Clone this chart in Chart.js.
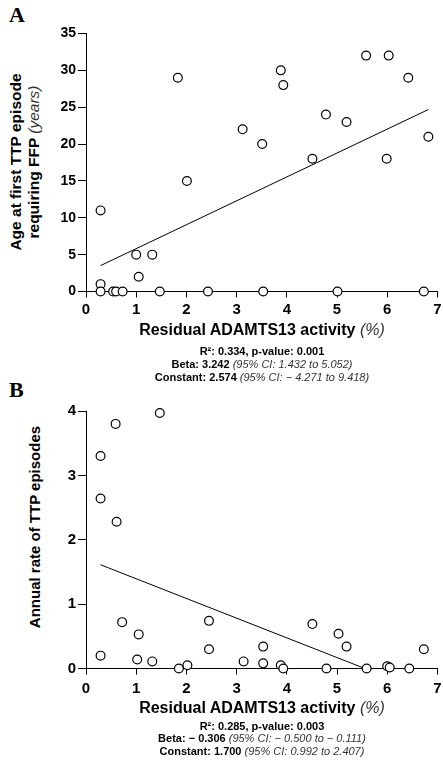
<!DOCTYPE html>
<html>
<head>
<meta charset="utf-8">
<script src="https://cdn.jsdelivr.net/npm/chart.js@4.4.1/dist/chart.umd.min.js"></script>
<style>
body { margin: 0; background: #fff; font-family: 'Liberation Sans', Arial, sans-serif; color: #000; }
#page { position: relative; width: 443px; height: 763px; overflow: hidden; }
.panel { position: absolute; left: 0; }
.letter { position: absolute; left: 9px; font: bold 22px 'Liberation Serif', 'Times New Roman', serif; line-height: 22px; }
.ytitle { position: absolute; width: 240px; text-align: center; font-weight: bold; white-space: nowrap; transform: rotate(-90deg); }
.xtitle { position: absolute; left: 82px; width: 360px; text-align: center; font-weight: bold; font-size: 16px; line-height: 20px; }
.stats { position: absolute; left: 82px; width: 360px; text-align: center; font-weight: bold; font-size: 11px; line-height: 12.6px; }
.stats i, .xtitle i, .ytitle i { font-weight: normal; color: #333; }
</style>
</head>
<body>
<div id="page">
  <div class="letter" style="top:4px">A</div>
  <div class="ytitle" style="left:-95px; top:144px; height:36px; font-size:15.5px; line-height:18px">Age at first TTP episode<br>requiring FFP <i>(years)</i></div>
  <div class="panel" style="top:0px"><canvas id="chartA" width="443" height="322"></canvas></div>
  <div class="xtitle" style="top:320px">Residual ADAMTS13 activity <i>(%)</i></div>
  <div class="stats" id="statsA" style="top:345.4px"></div>

  <div class="letter" style="top:379px">B</div>
  <div class="ytitle" style="left:-85px; top:518px; height:18px; font-size:15px; line-height:18px">Annual rate of TTP episodes</div>
  <div class="panel" style="top:380px"><canvas id="chartB" width="443" height="320"></canvas></div>
  <div class="xtitle" style="top:698px">Residual ADAMTS13 activity <i>(%)</i></div>
  <div class="stats" id="statsB" style="top:719.7px"></div>
</div>
<script>
// Panel A: age at first TTP episode requiring FFP (years)
var ageX = [0.29, 0.29, 0.29, 0.54, 0.60, 0.73, 1.00, 1.05, 1.32, 1.47, 1.83, 2.01, 2.43, 3.12,
            3.51, 3.53, 3.88, 3.93, 4.51, 4.78, 5.01, 5.19, 5.58, 5.99, 6.03, 6.42, 6.73, 6.82];
var ageY = [11, 1, 0, 0, 0, 0, 5, 2, 5, 0, 29, 15, 0, 22,
            20, 0, 30, 28, 18, 24, 0, 23, 32, 18, 32, 29, 0, 21];
var ageFit = { r2: '0.334', p: '0.001', beta: 3.242, betaCI: '1.432 to 5.052', constant: 2.574, constantCI: '\u2212 4.271 to 9.418' };

// Panel B: annual rate of TTP episodes
var rateX = [0.29, 0.29, 0.29, 0.59, 0.61, 0.72, 1.02, 1.05, 1.32, 1.47, 1.85, 2.02, 2.45, 2.45,
             3.14, 3.53, 3.53, 3.88, 3.93, 4.51, 4.79, 5.03, 5.19, 5.59, 6.00, 6.05, 6.44, 6.73];
var rateY = [3.30, 2.64, 0.20, 3.80, 2.28, 0.72, 0.14, 0.53, 0.11, 3.97, 0, 0.05, 0.74, 0.30,
             0.11, 0.34, 0.08, 0.05, 0, 0.69, 0, 0.54, 0.34, 0, 0.035, 0.015, 0, 0.30];
var rateFit = { r2: '0.285', p: '0.003', beta: -0.306, betaCI: '\u2212 0.500 to \u2212 0.111', constant: 1.700, constantCI: '0.992 to 2.407' };

var xTicks = [0, 1, 2, 3, 4, 5, 6, 7];

function fmt(v) {
    return (v < 0 ? '\u2212 ' : '') + Math.abs(v).toFixed(3);
}

function statsHtml(fit) {
    return 'R\u00b2: ' + fit.r2 + ', p-value: ' + fit.p + '<br>' +
        'Beta: ' + fmt(fit.beta) + ' <i>(95% CI: ' + fit.betaCI + ')</i><br>' +
        'Constant: ' + fmt(fit.constant) + ' <i>(95% CI: ' + fit.constantCI + ')</i>';
}

function fitLine(xs, fit) {
    var x0 = Math.min.apply(null, xs);
    var x1 = Math.max.apply(null, xs);
    // a falling fit stops where it reaches zero
    if (fit.beta < 0) x1 = Math.min(x1, -fit.constant / fit.beta);
    return [
        { x: x0, y: fit.constant + fit.beta * x0 },
        { x: x1, y: fit.constant + fit.beta * x1 }
    ];
}

function makeChart(id, xs, ys, fit, yMax, yStep, opts) {
    var points = xs.map(function (x, i) { return { x: x, y: ys[i] }; });
    return new Chart(document.getElementById(id), {
        type: 'scatter',
        data: {
            datasets: [
                {
                    data: points,
                    pointRadius: 4.4,
                    pointBorderWidth: 1.2,
                    pointBorderColor: '#000',
                    pointBackgroundColor: '#fff',
                    clip: false
                },
                {
                    data: fitLine(xs, fit),
                    showLine: true,
                    pointRadius: 0,
                    borderColor: '#000',
                    borderWidth: 1,
                    clip: false
                }
            ]
        },
        options: {
            responsive: false,
            animation: false,
            layout: { padding: { top: opts.padTop, left: 0, right: 4, bottom: 0 } },
            plugins: { legend: { display: false }, tooltip: { enabled: false } },
            scales: {
                x: {
                    type: 'linear',
                    min: 0,
                    max: 7,
                    afterBuildTicks: function (scale) {
                        scale.ticks = xTicks.map(function (v) { return { value: v }; });
                    },
                    afterFit: function (scale) {
                        scale.height = opts.xHeight;
                        // let the "7" run into the page margin
                        scale.paddingRight = 0;
                    },
                    border: { display: true, color: '#000', width: 1 },
                    grid: { drawOnChartArea: false, tickLength: 6, color: '#000' },
                    ticks: {
                        color: '#000',
                        padding: opts.xPad,
                        font: { family: 'Liberation Sans', size: 15, weight: 'bold' }
                    }
                },
                y: {
                    min: 0,
                    max: yMax,
                    afterFit: function (scale) { scale.width = 86; },
                    border: { display: true, color: '#000', width: 1 },
                    grid: { drawOnChartArea: false, tickLength: 8, color: '#000' },
                    ticks: {
                        stepSize: yStep,
                        color: '#000',
                        padding: 2,
                        font: { family: 'Liberation Sans', size: opts.yFont, weight: 'bold' }
                    }
                }
            }
        }
    });
}

document.getElementById('statsA').innerHTML = statsHtml(ageFit);
document.getElementById('statsB').innerHTML = statsHtml(rateFit);

makeChart('chartA', ageX, ageY, ageFit, 35, 5, { padTop: 33.5, xHeight: 30.5, xPad: 3, yFont: 14 });
makeChart('chartB', rateX, rateY, rateFit, 4, 1, { padTop: 31, xHeight: 31.5, xPad: 5, yFont: 15 });
</script>
</body>
</html>
